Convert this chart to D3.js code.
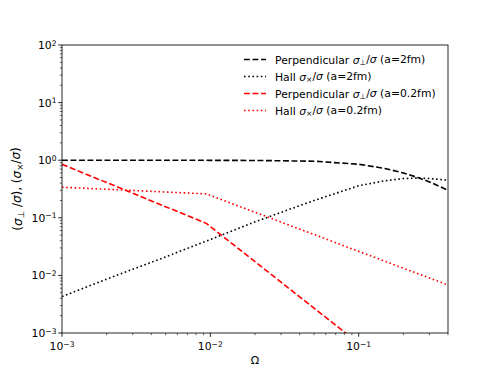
<!DOCTYPE html>
<html>
<head>
<meta charset="utf-8">
<script src="https://cdn.jsdelivr.net/npm/d3@7"></script>
<style>
  body { margin: 0; background: #fff; }
  text { font-family: "DejaVu Sans", sans-serif; fill: #000; }
</style>
</head>
<body>
<div id="chart"></div>
<script>
"use strict";

// Omega values and read-off curve values
var omegaBlack = [0.001, 0.002, 0.005, 0.01, 0.02, 0.05, 0.1, 0.15, 0.2, 0.25, 0.3, 0.4];
var perp2fm    = [1.0, 1.0, 1.0, 0.995, 0.99, 0.96, 0.85, 0.72, 0.60, 0.50, 0.42, 0.30];
var hall2fm    = [0.0043, 0.0086, 0.021, 0.042, 0.085, 0.2, 0.36, 0.44, 0.48, 0.49, 0.48, 0.45];

var omegaRed   = [0.001, 0.0094, 0.4];
var perp02fm   = [0.85, 0.08, 0.00004];
var hall02fm   = [0.34, 0.26, 0.0068];

var xTicks = [1e-3, 1e-2, 1e-1];
var yTicks = [1e-3, 1e-2, 1e-1, 1e0, 1e1, 1e2];

var series = [
    { name: "Perpendicular", sub: "\u22a5", tag: "(a=2fm)", x: omegaBlack, y: perp2fm, color: "#000", dash: "5.9,2.6" },
    { name: "Hall", sub: "\u00d7", tag: "(a=2fm)", x: omegaBlack, y: hall2fm, color: "#000", dash: "1.6,2.6" },
    { name: "Perpendicular", sub: "\u22a5", tag: "(a=0.2fm)", x: omegaRed, y: perp02fm, color: "#ff0000", dash: "5.9,2.6" },
    { name: "Hall", sub: "\u00d7", tag: "(a=0.2fm)", x: omegaRed, y: hall02fm, color: "#ff0000", dash: "1.6,2.6" }
];

var svg = d3.select("#chart").append("svg")
    .attr("width", 498)
    .attr("height", 374),
    margin = { top: 45, right: 50, bottom: 41, left: 62 },
    width = +svg.attr("width") - margin.left - margin.right,
    height = +svg.attr("height") - margin.top - margin.bottom;

var x = d3.scaleLog().domain([1e-3, 0.4]).range([0, width]),
    y = d3.scaleLog().domain([1e-3, 1e2]).range([height, 0]);

var g = svg.append("g")
    .attr("transform", "translate(" + margin.left + "," + margin.top + ")");

g.append("clipPath").attr("id", "clip")
    .append("rect").attr("width", width).attr("height", height);

function supLabel(sel, exp) {
    sel.text("");
    sel.append("tspan").text("10");
    sel.append("tspan")
        .attr("dy", "-0.45em")
        .attr("font-size", "7.6px")
        .text(String(exp).replace("-", "\u2212"));
}

// minor ticks
var xMinor = [], yMinor = [];
[1e-3, 1e-2, 1e-1].forEach(function (d) {
    for (var k = 2; k <= 9; k++) if (d * k <= 0.4) xMinor.push(d * k);
});
[1e-3, 1e-2, 1e-1, 1, 10].forEach(function (d) {
    for (var k = 2; k <= 9; k++) yMinor.push(d * k);
});

var xAxis = g.append("g")
    .attr("transform", "translate(0," + height + ")");
xAxis.selectAll(".minor").data(xMinor).enter().append("line")
    .attr("x1", function (d) { return x(d); }).attr("x2", function (d) { return x(d); })
    .attr("y1", 0).attr("y2", 2.2)
    .attr("stroke", "#000").attr("stroke-width", 0.6);
xAxis.selectAll(".major").data(xTicks).enter().append("line")
    .attr("x1", function (d) { return x(d); }).attr("x2", function (d) { return x(d); })
    .attr("y1", 0).attr("y2", 3.8)
    .attr("stroke", "#000").attr("stroke-width", 0.85);
xAxis.selectAll(".lab").data(xTicks).enter().append("text")
    .attr("x", function (d) { return x(d); })
    .attr("y", 17)
    .attr("text-anchor", "middle")
    .attr("font-size", "10.8px")
    .each(function (d) { supLabel(d3.select(this), Math.round(Math.log10(d))); });

var yAxis = g.append("g");
yAxis.selectAll(".minor").data(yMinor).enter().append("line")
    .attr("y1", function (d) { return y(d); }).attr("y2", function (d) { return y(d); })
    .attr("x1", 0).attr("x2", -2.2)
    .attr("stroke", "#000").attr("stroke-width", 0.6);
yAxis.selectAll(".major").data(yTicks).enter().append("line")
    .attr("y1", function (d) { return y(d); }).attr("y2", function (d) { return y(d); })
    .attr("x1", 0).attr("x2", -3.8)
    .attr("stroke", "#000").attr("stroke-width", 0.85);
yAxis.selectAll(".lab").data(yTicks).enter().append("text")
    .attr("x", -5.5)
    .attr("y", function (d) { return y(d) + 4; })
    .attr("text-anchor", "end")
    .attr("font-size", "10.8px")
    .each(function (d) { supLabel(d3.select(this), Math.round(Math.log10(d))); });

// axis titles
g.append("text")
    .attr("x", width / 2)
    .attr("y", height + 31)
    .attr("text-anchor", "middle")
    .attr("font-size", "11px")
    .text("\u03a9");

var yt = g.append("text")
    .attr("transform", "translate(-40," + (height / 2) + ") rotate(-90)")
    .attr("text-anchor", "middle")
    .attr("font-size", "12px");
yt.append("tspan").text("(");
yt.append("tspan").attr("font-style", "italic").text("\u03c3");
yt.append("tspan").attr("font-size", "8.6px").attr("dy", "0.25em").text("\u22a5");
yt.append("tspan").attr("dy", "-0.25em").text(" /");
yt.append("tspan").attr("font-style", "italic").text("\u03c3");
yt.append("tspan").text("), (");
yt.append("tspan").attr("font-style", "italic").text("\u03c3");
yt.append("tspan").attr("font-size", "8.6px").attr("dy", "0.25em").text("\u00d7");
yt.append("tspan").attr("dy", "-0.25em").text("/");
yt.append("tspan").attr("font-style", "italic").text("\u03c3");
yt.append("tspan").text(")");

// curves
var line = d3.line()
    .x(function (d) { return x(d[0]); })
    .y(function (d) { return y(d[1]); });

g.append("g").attr("clip-path", "url(#clip)")
    .selectAll("path").data(series).enter().append("path")
    .attr("d", function (s) { return line(d3.zip(s.x, s.y)); })
    .attr("fill", "none")
    .attr("stroke", function (s) { return s.color; })
    .attr("stroke-width", 1.6)
    .attr("stroke-dasharray", function (s) { return s.dash; });

// frame
g.append("rect")
    .attr("width", width).attr("height", height)
    .attr("fill", "none").attr("stroke", "#000").attr("stroke-width", 0.85);

// legend
var leg = g.selectAll(".leg").data(series).enter().append("g")
    .attr("transform", function (d, i) { return "translate(" + (182) + "," + (14.5 + i * 17) + ")"; });
leg.append("line")
    .attr("x1", 0).attr("x2", 22)
    .attr("stroke", function (s) { return s.color; })
    .attr("stroke-width", 1.6)
    .attr("stroke-dasharray", function (s) { return s.dash; });
leg.append("text")
    .attr("x", 31)
    .attr("y", 4)
    .attr("font-size", "10.8px")
    .each(function (s) {
        var t = d3.select(this);
        t.append("tspan").text(s.name + " ");
        t.append("tspan").attr("font-style", "italic").text("\u03c3");
        t.append("tspan").attr("font-size", "7.6px").attr("dy", "0.25em").text(s.sub);
        t.append("tspan").attr("dy", "-0.25em").text("/");
        t.append("tspan").attr("font-style", "italic").text("\u03c3");
        t.append("tspan").text(" " + s.tag);
    });
</script>
</body>
</html>
